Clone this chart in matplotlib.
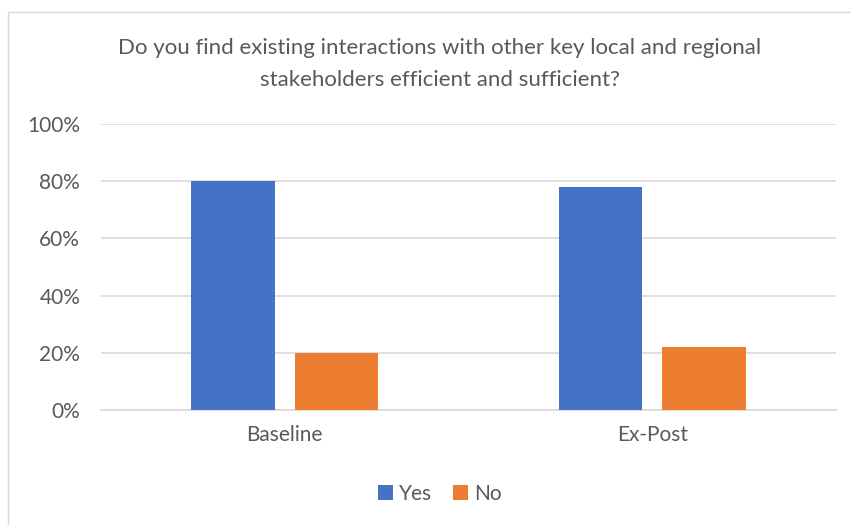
import matplotlib
matplotlib.use("Agg")
import matplotlib.pyplot as plt
import numpy as np
from matplotlib.patches import Rectangle
from matplotlib.ticker import PercentFormatter

categories = ["Baseline", "Ex-Post"]
yes_pct = [80.0, 77.8]
no_pct = [20.0, 22.2]
series_names = ["Yes", "No"]
title = ("Do you find existing interactions with other key local and regional\n"
         "stakeholders efficient and sufficient?")

BLUE = "#4472C4"
ORANGE = "#ED7D31"
TEXT = "#595959"
GRID = "#D9D9D9"

plt.rcParams["font.family"] = ["Lato", "DejaVu Sans"]

fig = plt.figure(figsize=(8.51, 5.25), dpi=100)
ax = fig.add_axes([101 / 851, 1 - 410 / 525, 735 / 851, 286 / 525])

# chart frame
fig.patches.append(Rectangle((8 / 851, -0.01), 1.0, 1 - 12 / 525 + 0.01,
                             transform=fig.transFigure, fill=False,
                             edgecolor=GRID, linewidth=1.0))

x = np.arange(len(categories))
w = 0.227
ax.bar(x - 0.141, yes_pct, w, color=BLUE, label=series_names[0], zorder=3)
ax.bar(x + 0.141, no_pct, w, color=ORANGE, label=series_names[1], zorder=3)

ax.set_xlim(-0.5, len(categories) - 0.5)
ax.set_ylim(0, 100)
ax.set_yticks(np.arange(0, 101, 20))
ax.yaxis.set_major_formatter(PercentFormatter(decimals=0))
ax.set_xticks(x)
ax.set_xticklabels(categories)
ax.tick_params(axis="both", length=0, labelsize=15, colors=TEXT)
ax.tick_params(axis="y", pad=15)
ax.tick_params(axis="x", pad=11)
ax.grid(axis="y", color=GRID, linewidth=1.2, zorder=0)
for s in ["top", "right", "left"]:
    ax.spines[s].set_visible(False)
ax.spines["bottom"].set_color(GRID)
ax.spines["bottom"].set_linewidth(1.2)

fig.text(440 / 851, 1 - 64 / 525, title, ha="center", va="center",
         fontsize=16, color=TEXT, linespacing=1.75)

leg = fig.legend(loc="center", bbox_to_anchor=(440 / 851, 1 - 494 / 525), ncol=2,
                 frameon=False, fontsize=15, handlelength=0.7, handleheight=0.7,
                 handletextpad=0.3, columnspacing=1.0)
for t in leg.get_texts():
    t.set_color(TEXT)

fig.savefig("out.png", dpi=100)
